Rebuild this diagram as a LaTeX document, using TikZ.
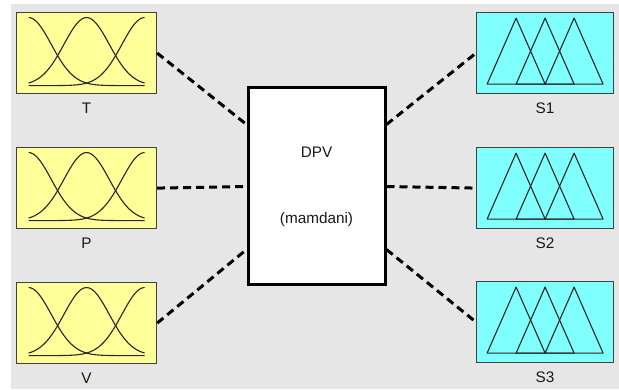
\documentclass[tikz,border=0pt]{standalone}
\usepackage{fontspec}
\setmainfont{Liberation Sans}
\definecolor{bggray}{HTML}{E6E6E6}
\definecolor{inyellow}{HTML}{FFFF99}
\definecolor{outcyan}{HTML}{80FFFF}
\begin{document}
\begin{tikzpicture}[x=1pt,y=-1pt,
  mfbox/.style={draw=black!75, line width=1.2pt, minimum height=81pt,
    inner sep=0pt, anchor=north west},
  inbox/.style={mfbox, fill=inyellow, minimum width=140pt},
  outbox/.style={mfbox, fill=outcyan, minimum width=137pt},
  varlabel/.style={font=\fontsize{15.3}{17}\selectfont, text=black!90,
    anchor=base, inner sep=0pt},
  link/.style={line width=3pt, dash pattern=on 8pt off 5pt},
  mfcurve/.style={draw=black!85, line width=1.1pt, line join=round},
  pics/gaussset/.style={code={
    \foreach \c in {-58,0,58} {
      \draw[mfcurve] plot[domain=-58:58, samples=90, smooth]
        (\x,{32.5-68*exp(-((\x-\c)*(\x-\c))/1026)});
    }}},
  pics/triset/.style={code={
    \foreach \c in {-29,0,29} {
      \draw[mfcurve] ({\c-29},31) -- (\c,-35) -- ({\c+29},31) -- cycle;
    }}}
]
\useasboundingbox (0,0) rectangle (619,390);
\fill[bggray] (11,4) rectangle (619,389);

% input variables
\node[inbox] (T) at (16,12) {};
\node[inbox] (P) at (16,147) {};
\node[inbox] (V) at (16,282) {};
% output variables
\node[outbox] (S1) at (476,12) {};
\node[outbox] (S2) at (476,147) {};
\node[outbox] (S3) at (476,281) {};

% membership functions
\foreach \n in {T,P,V} { \pic at (\n.center) {gaussset}; }
\foreach \n in {S1,S2,S3} { \pic at (\n.center) {triset}; }

% variable names
\foreach \n in {T,P,V,S1,S2,S3} {
  \node[varlabel] (\n-name) at ([yshift=-19.5pt]\n.south) {\n};
}

% inference system
\node[draw=black, line width=3pt, fill=white, minimum width=137pt,
  minimum height=197pt, inner sep=0pt, anchor=north west] (dpv) at (246.5,86.5) {};
\node[varlabel] (dpv-name) at ([yshift=-71pt]dpv.north) {DPV};
\node[varlabel] (dpv-type) at ([yshift=-137.5pt]dpv.north) {(mamdani)};

% connections
\draw[link] (T.east) -- ([yshift=62pt]dpv.west);
\draw[link] (P.east) -- (dpv.west);
\draw[link] (V.east) -- ([yshift=-63pt]dpv.west);
\draw[link] ([yshift=62pt]dpv.east) -- (S1.west);
\draw[link] (dpv.east) -- (S2.west);
\draw[link] ([yshift=-63pt]dpv.east) -- (S3.west);
\end{tikzpicture}
\end{document}
